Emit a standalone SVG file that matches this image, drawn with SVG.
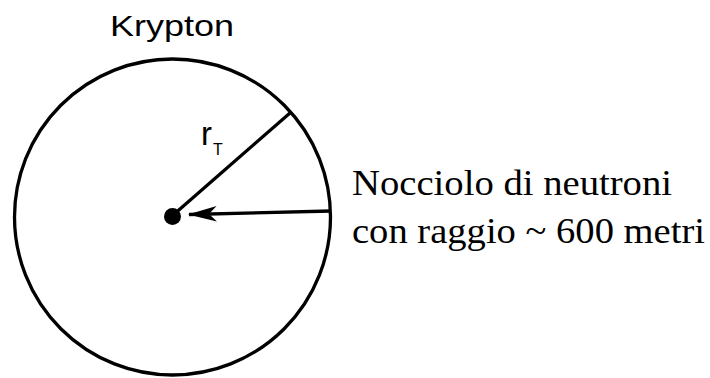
<svg xmlns="http://www.w3.org/2000/svg" width="710" height="378" viewBox="0 0 710 378">
<style>
.ln{fill:none;stroke:#000;stroke-width:3.3}
.sans{font-family:"Liberation Sans",Arial,sans-serif;fill:#000}
.serif{font-family:"Liberation Serif","Times New Roman",serif;fill:#000}
</style>
<defs>
<marker id="ah" markerUnits="userSpaceOnUse" markerWidth="30" markerHeight="20" refX="25" refY="7" orient="auto" viewBox="0 0 27 14">
<path d="M26,7 L0,0 L7,7 L0,14 Z" fill="#000"/>
</marker>
</defs>
<rect width="710" height="378" fill="#fff"/>
<g id="planet">
<circle class="ln" cx="172.5" cy="217" r="158"/>
<text class="sans" x="172" y="36" font-size="30" text-anchor="middle" textLength="124" lengthAdjust="spacingAndGlyphs">Krypton</text>
</g>
<g id="core">
<circle cx="172.5" cy="216.5" r="8.5" fill="#000"/>
</g>
<g id="connectors">
<line class="ln" x1="172" y1="216" x2="290" y2="113"/>
<line class="ln" x1="331" y1="211" x2="189" y2="214.5" marker-end="url(#ah)"/>
</g>
<g id="radius-label">
<text class="sans" x="201" y="145" font-size="33">r<tspan font-size="16" dx="1" dy="10">T</tspan></text>
</g>
<g id="core-label">
<text class="serif" x="352" y="195" font-size="36" textLength="320" lengthAdjust="spacingAndGlyphs">Nocciolo di neutroni</text>
<text class="serif" x="352" y="243" font-size="36" textLength="353" lengthAdjust="spacingAndGlyphs">con raggio ~ 600 metri</text>
</g>
</svg>
